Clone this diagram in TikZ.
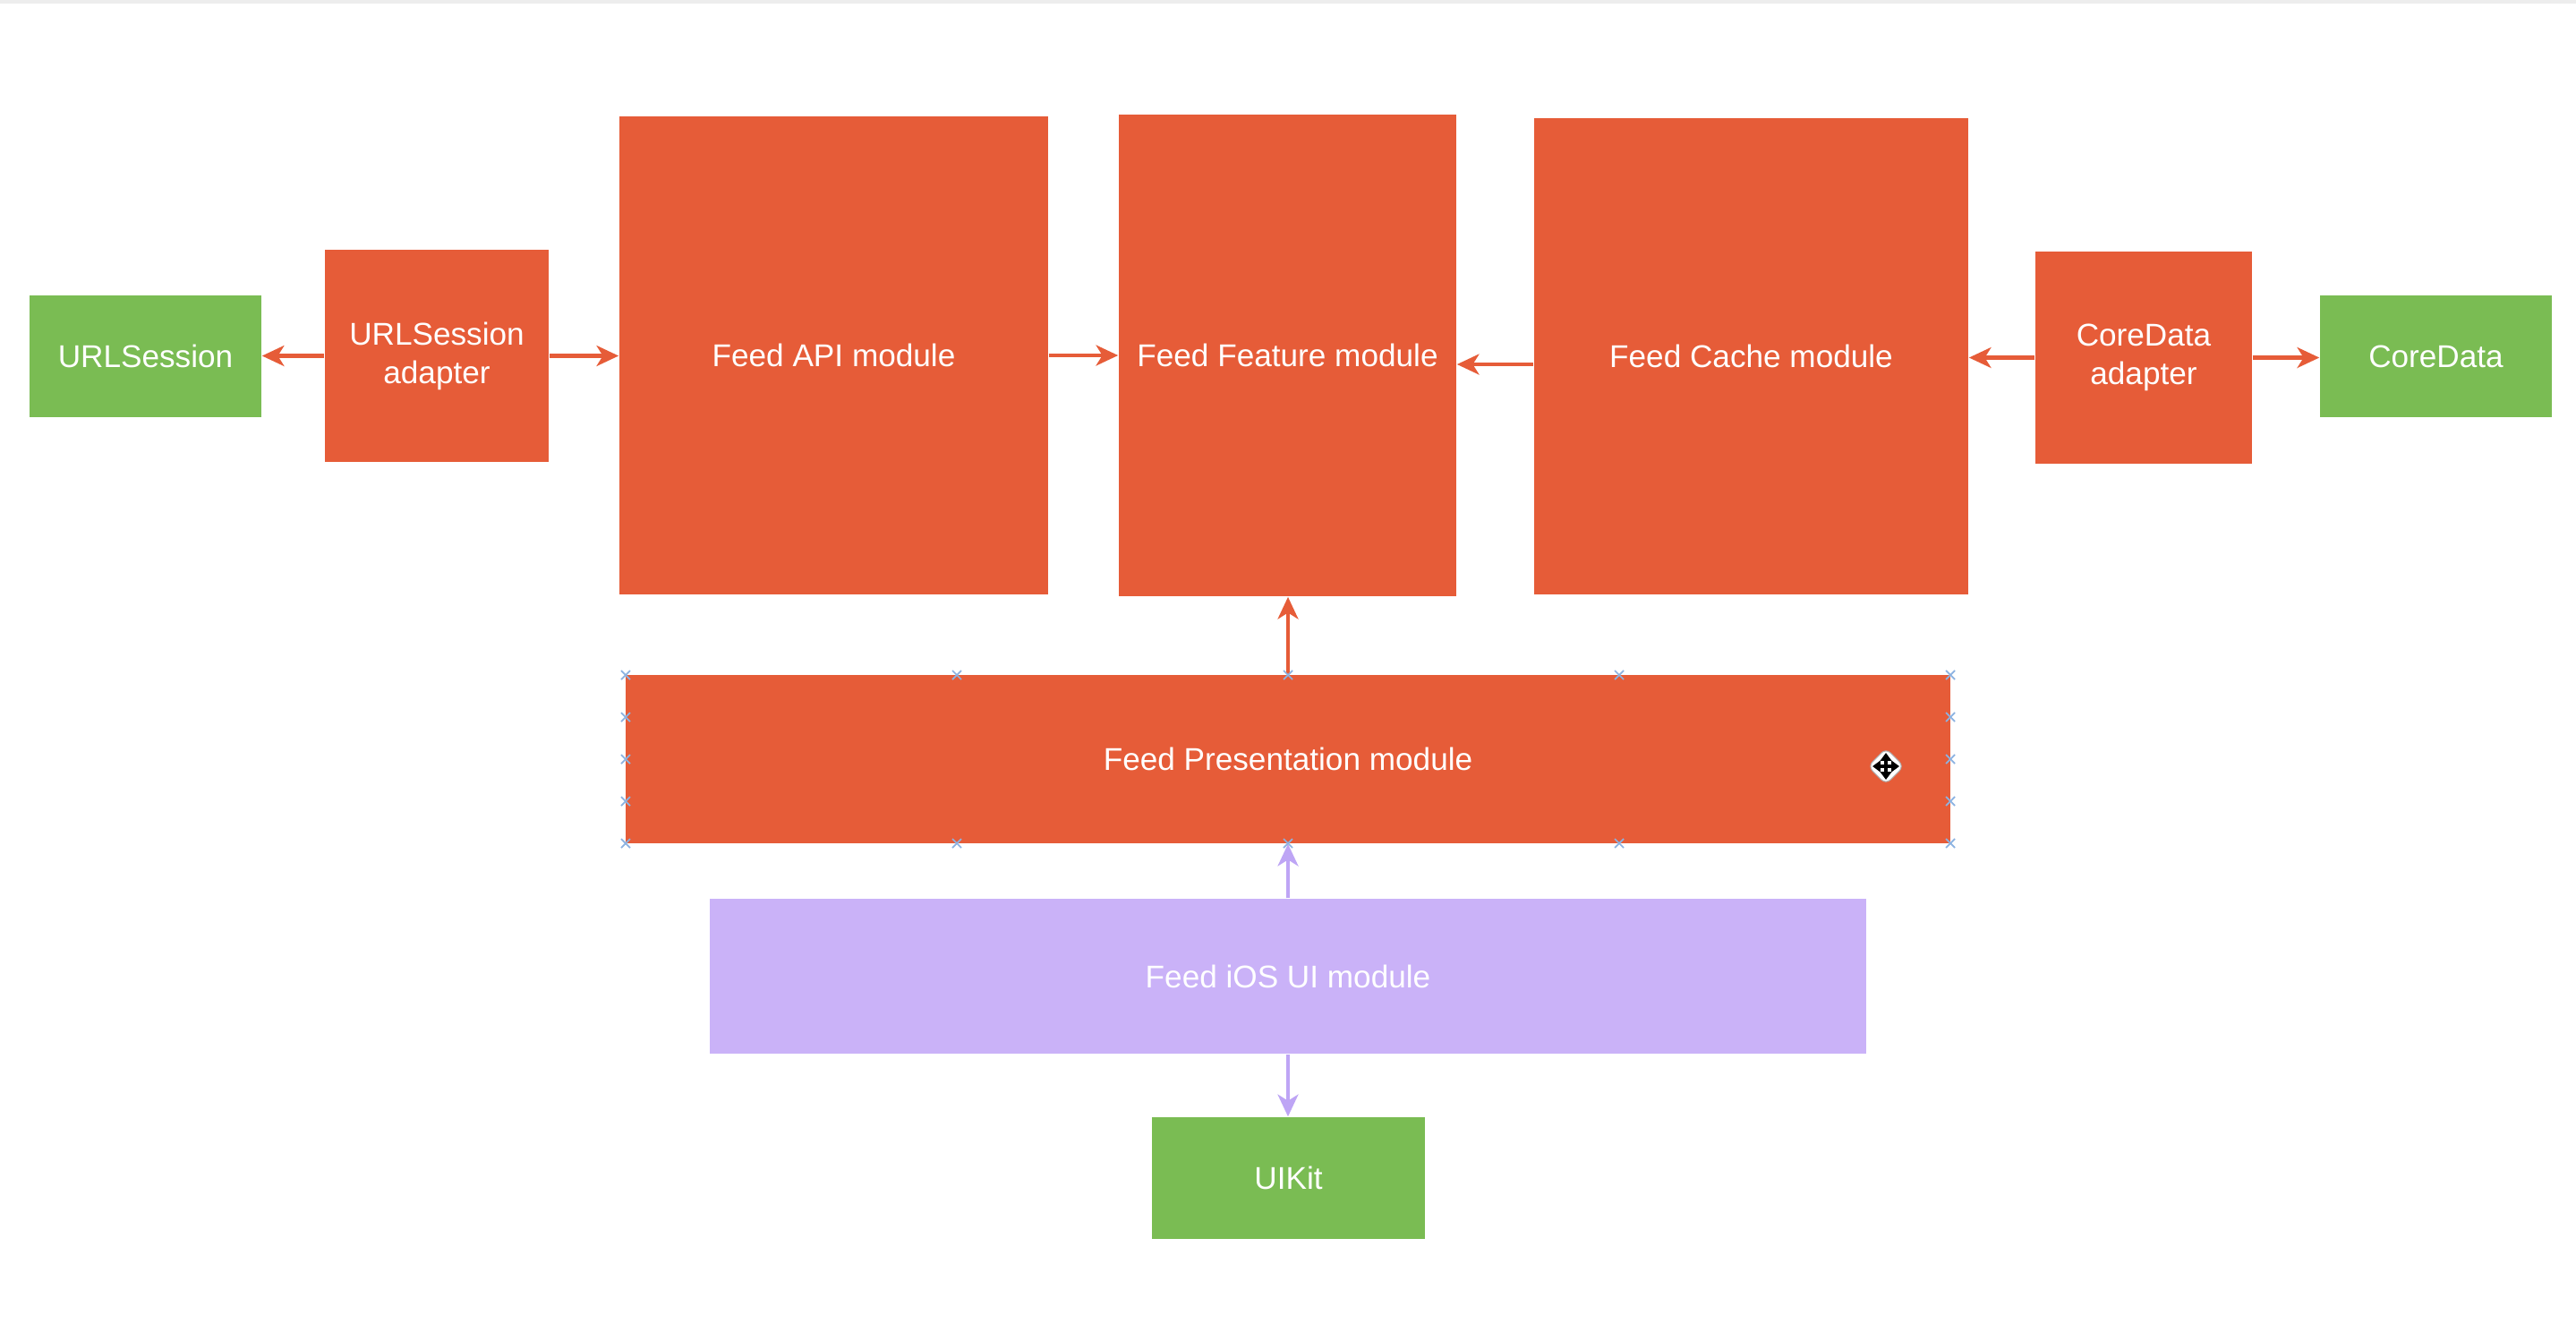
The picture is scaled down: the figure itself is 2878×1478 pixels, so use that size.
\documentclass[tikz,border=0pt]{standalone}
\usepackage{fontspec}
\setmainfont{Liberation Sans}
\usetikzlibrary{arrows.meta}
\definecolor{orng}{RGB}{230,92,56}
\definecolor{grn}{RGB}{122,188,83}
\definecolor{purp}{RGB}{202,178,248}
\definecolor{purparr}{RGB}{190,165,245}
\definecolor{hndl}{RGB}{140,178,225}
\begin{document}
\begin{tikzpicture}[x=0.01cm,y=-0.01cm,
  box/.style={draw=none,inner sep=0pt,align=center,text=white,font=\fontsize{10}{12.2}\selectfont},
  obox/.style={box,fill=orng},
  gbox/.style={box,fill=grn},
  pbox/.style={box,fill=purp},
  arr/.style={draw=orng,line width=1.2pt,-{Stealth[length=7pt,width=6.5pt,inset=2pt]}},
  parr/.style={draw=purparr,line width=1.2pt,-{Stealth[length=7pt,width=6.5pt,inset=2pt]}},
  hmark/.style={draw=hndl,line width=0.5pt}
]
\useasboundingbox (0,0) rectangle (2878,1478);
\fill[white] (0,0) rectangle (2878,1478);
\fill[black!7] (0,0) rectangle (2878,4);

\node[gbox,minimum width=2.59cm,minimum height=1.36cm] (urls) at (162.5,398) {URLSession};
\node[obox,minimum width=2.50cm,minimum height=2.37cm] (urla) at (488,397.5) {URLSession\\adapter};
\node[obox,minimum width=4.79cm,minimum height=5.34cm] (api) at (931.5,397) {Feed API module};
\node[obox,minimum width=3.77cm,minimum height=5.38cm] (feat) at (1438.5,397) {Feed Feature module};
\node[obox,minimum width=4.85cm,minimum height=5.32cm] (cache) at (1956.5,398) {Feed Cache module};
\node[obox,minimum width=2.42cm,minimum height=2.37cm] (cda) at (2395,399.5) {CoreData\\adapter};
\node[gbox,minimum width=2.59cm,minimum height=1.36cm] (cd) at (2721.5,398) {CoreData};
\node[obox,minimum width=14.80cm,minimum height=1.88cm] (pres) at (1439,848) {Feed Presentation module};
\node[pbox,minimum width=12.92cm,minimum height=1.73cm] (ios) at (1439,1090.5) {Feed iOS UI module};
\node[gbox,minimum width=3.05cm,minimum height=1.36cm] (uikit) at (1439.5,1316) {UIKit};

\draw[arr] (urla.west) -- (urla.west -| urls.east);
\draw[arr] (urla.east) -- (urla.east -| api.west);
\draw[arr] (api.east) -- (api.east -| feat.west);
\draw[arr] ([yshift=-0.09cm]cache.west) -- ([yshift=-0.09cm]cache.west -| feat.east);
\draw[arr] (cda.west) -- (cda.west -| cache.east);
\draw[arr] (cda.east) -- (cda.east -| cd.west);
\draw[arr] (pres.north) -- (pres.north |- feat.south);
\draw[parr] (ios.north) -- (ios.north |- pres.south);
\draw[parr] (ios.south) -- (ios.south |- uikit.north);

% selection handles
\foreach \hx in {699,1069,1439,1809,2179}{
  \foreach \hy in {754,942}{
    \draw[hmark] (\hx-5,\hy-5) -- (\hx+5,\hy+5) (\hx-5,\hy+5) -- (\hx+5,\hy-5);
  }
}
\foreach \hx in {699,2179}{
  \foreach \hy in {801,848,895}{
    \draw[hmark] (\hx-5,\hy-5) -- (\hx+5,\hy+5) (\hx-5,\hy+5) -- (\hx+5,\hy-5);
  }
}
% move cursor
\coordinate (cur) at (2107,856);
\fill[white,draw=black!30,line width=0.3pt,rounded corners=2pt] ([xshift=-0.2cm]cur) -- ([yshift=0.2cm]cur) -- ([xshift=0.2cm]cur) -- ([yshift=-0.2cm]cur) -- cycle;
\draw[black,line width=0.9pt,{Triangle[length=2.5pt,width=3.5pt]}-{Triangle[length=2.5pt,width=3.5pt]}] ([xshift=-0.15cm]cur) -- ([xshift=0.15cm]cur);
\draw[black,line width=0.9pt,{Triangle[length=2.5pt,width=3.5pt]}-{Triangle[length=2.5pt,width=3.5pt]}] ([yshift=-0.15cm]cur) -- ([yshift=0.15cm]cur);
\end{tikzpicture}
\end{document}
